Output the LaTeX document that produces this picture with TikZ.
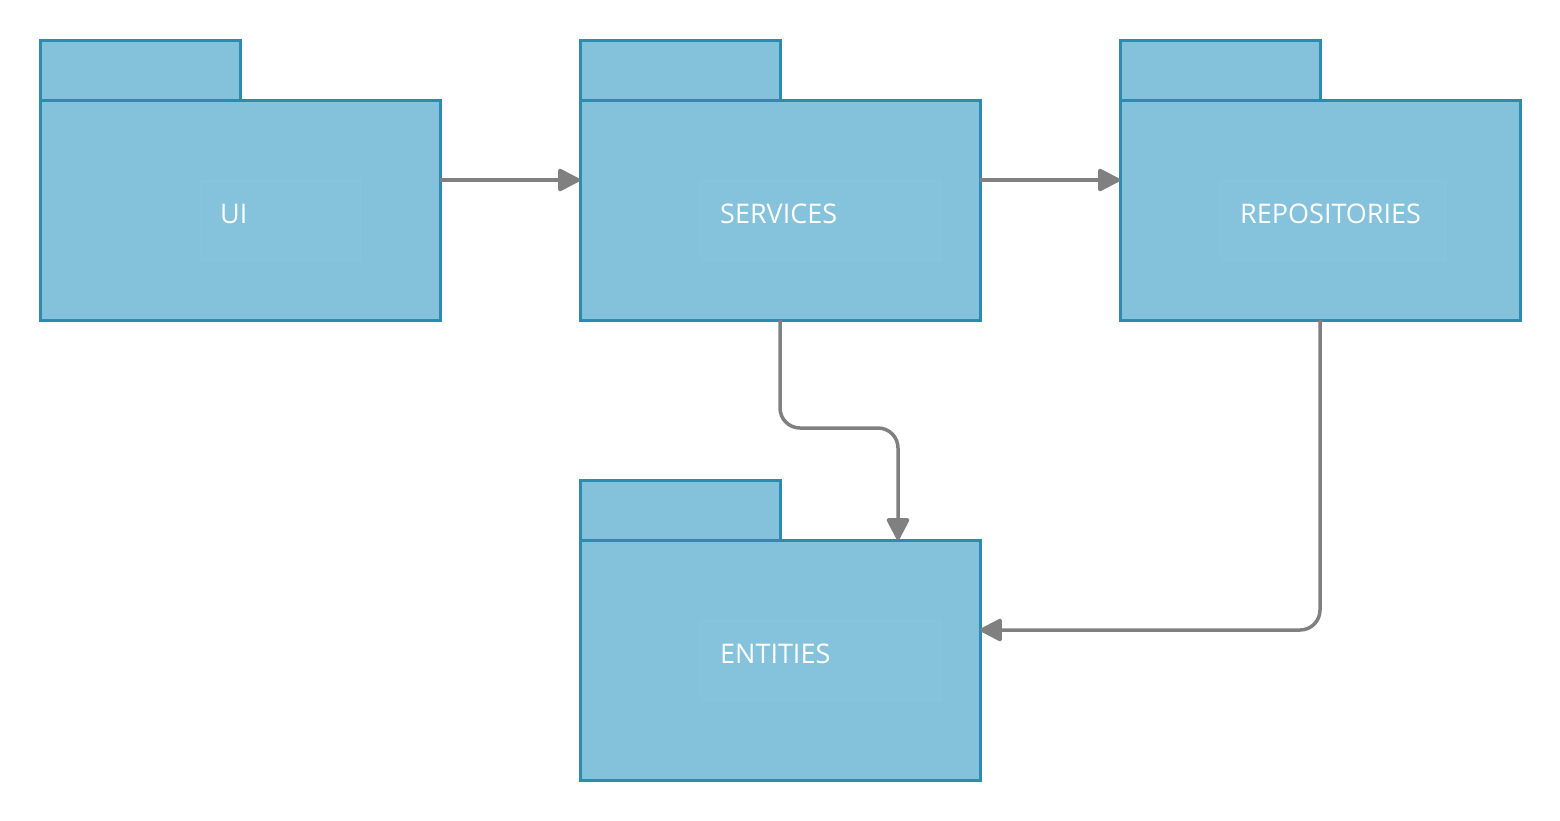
\documentclass[tikz,border=0pt]{standalone}
\usepackage{fontspec}
\setmainfont{Open Sans}
\usetikzlibrary{arrows.meta}
\definecolor{pkgfill}{HTML}{84C2DB}
\definecolor{pkgline}{HTML}{2E8BB0}
\definecolor{conngray}{HTML}{808080}
\tikzset{
  pkgbody/.style={draw=pkgline, fill=pkgfill, line width=3pt, minimum width=400pt, minimum height=220pt, inner sep=0pt, outer sep=0pt},
  pkgtab/.style={draw=pkgline, fill=pkgfill, line width=3pt, minimum width=200pt, minimum height=60pt, inner sep=0pt, outer sep=0pt},
  pkglabel/.style={text=white, font=\fontsize{27}{32}\selectfont, anchor=west, inner sep=0pt},
  faint/.style={draw=white, draw opacity=0.04, fill=white, fill opacity=0.01, line width=1pt},
  conn/.style={draw=conngray, line width=3.5pt, -{Triangle[length=24pt,width=24pt,round]}},
}
\begin{document}
\begin{tikzpicture}[x=1pt,y=-1pt]
\useasboundingbox (0,0) rectangle (1560,820);
% UI
\node[pkgtab] (uitab) at (140,70) {};
\node[pkgbody] (ui) at (240,210) {};
\draw[faint] (200,180) rectangle (360,260);
\node[pkglabel] (uit) at (220,214) {UI};
% SERVICES
\node[pkgtab] (svctab) at (680,70) {};
\node[pkgbody] (svc) at (780,210) {};
\draw[faint] (700,180) rectangle (940,260);
\node[pkglabel] (svct) at (720,214) {SERVICES};
% REPOSITORIES
\node[pkgtab] (repotab) at (1220,70) {};
\node[pkgbody] (repo) at (1320,210) {};
\draw[faint] (1220,180) rectangle (1445,260);
\node[pkglabel] (repot) at (1240,214) {REPOSITORIES};
% ENTITIES
\node[pkgtab] (enttab) at (680,510) {};
\node[pkgbody, minimum height=240pt] (ent) at (780,660) {};
\draw[faint] (700,620) rectangle (940,700);
\node[pkglabel] (entt) at (720,654) {ENTITIES};
% connectors
\draw[conn] ([yshift=30pt]ui.east) -- ([yshift=30pt]svc.west);
\draw[conn] ([yshift=30pt]svc.east) -- ([yshift=30pt]repo.west);
\coordinate (bend1) at (780,428);
\coordinate (bend2) at (898,428);
\draw[conn, rounded corners=20pt] (svc.south) -- (bend1) -- (bend2) -- ([xshift=118pt]ent.north);
\coordinate (bend3) at (1320,630);
\draw[conn, rounded corners=20pt] (repo.south) -- (bend3) -- ([yshift=30pt]ent.east);
\end{tikzpicture}
\end{document}
